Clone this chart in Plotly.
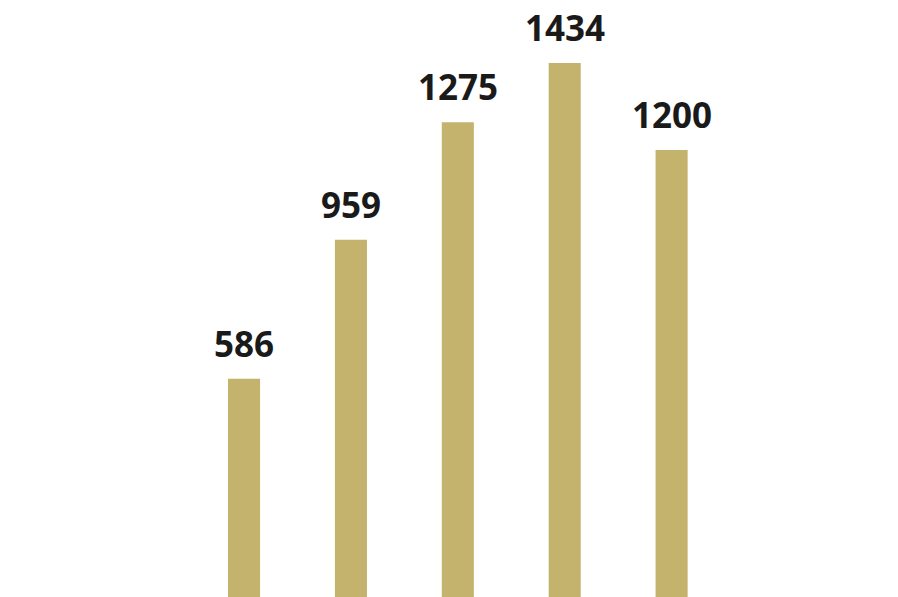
import plotly.graph_objects as go

categories = ["A", "B", "C", "D", "E"]
values = [586, 959, 1275, 1434, 1200]

fig = go.Figure(go.Bar(
    x=categories,
    y=values,
    width=0.30,
    marker=dict(color="#C4B36C", line=dict(width=0)),
    cliponaxis=False,
    hoverinfo="skip",
))

for c, v in zip(categories, values):
    fig.add_annotation(
        x=c, y=v, text=str(v), showarrow=False,
        yanchor="bottom", yshift=11, borderpad=0,
        font=dict(family="Open Sans", size=35, color="#1a1a1a", weight=700),
    )

fig.update_layout(
    width=898, height=597,
    margin=dict(l=0, r=0, t=0, b=0),
    paper_bgcolor="white", plot_bgcolor="white",
    showlegend=False,
    xaxis=dict(visible=False, range=[-2.283, 6.118]),
    yaxis=dict(visible=False, range=[0, 1603]),
)

fig.write_html(
    "out.html",
    config={"displayModeBar": False, "staticPlot": True},
    post_script="document.body.style.margin='0';document.body.style.overflow='hidden';",
)
